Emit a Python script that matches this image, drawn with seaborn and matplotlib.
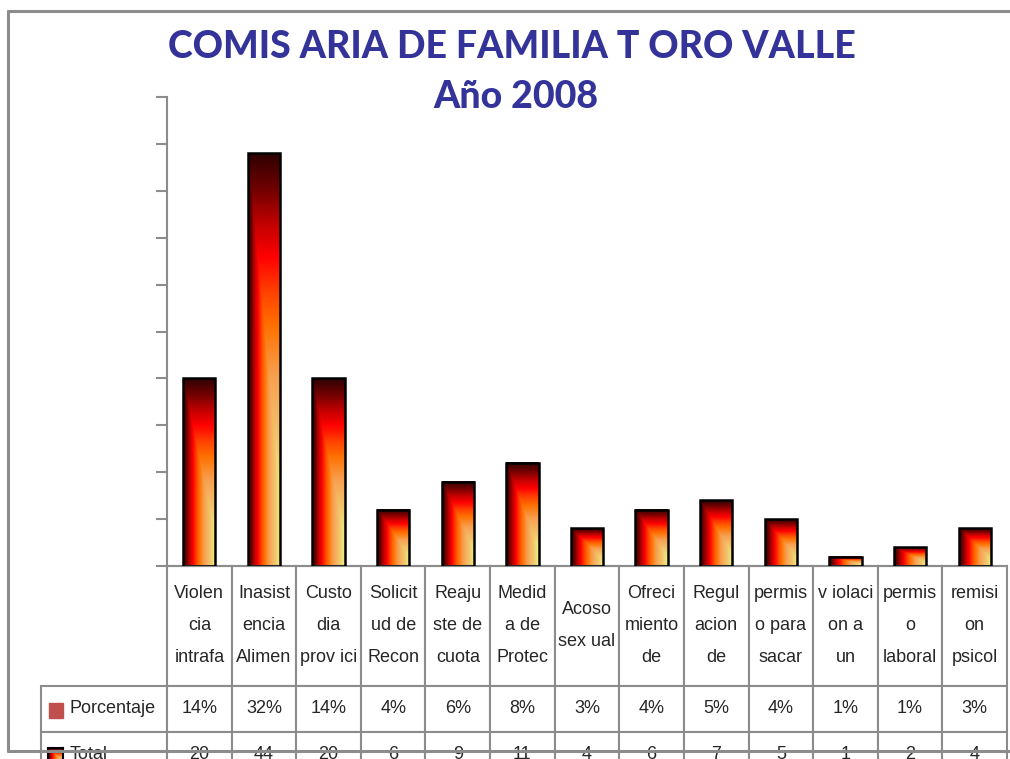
import numpy as np
import pandas as pd
import matplotlib
matplotlib.use("Agg")
import matplotlib.pyplot as plt
import seaborn as sns
from matplotlib.colors import LinearSegmentedColormap
from matplotlib.lines import Line2D
from matplotlib.patches import Rectangle

# datos del grafico
categorias = ["Violen\ncia\nintrafa", "Inasist\nencia\nAlimen", "Custo\ndia\nprov ici",
              "Solicit\nud de\nRecon", "Reaju\nste de\ncuota", "Medid\na de\nProtec",
              "Acoso\nsex ual", "Ofreci\nmiento\nde", "Regul\nacion\nde",
              "permis\no para\nsacar", "v iolaci\non a\nun", "permis\no\nlaboral",
              "remisi\non\npsicol"]
totales = [20, 44, 20, 6, 9, 11, 4, 6, 7, 5, 1, 2, 4]
porcentajes = ["14%", "32%", "14%", "4%", "6%", "8%", "3%", "4%", "5%", "4%", "1%", "1%", "3%"]
series = ["Porcentaje", "Total"]
titulo = "COMIS ARIA DE FAMILIA T ORO VALLE"
subtitulo = "Año 2008"

sns.set_style("white")
plt.rcParams['font.family'] = ['Liberation Sans', 'DejaVu Sans']

GRIS = "#8c8c8c"
AZUL = "#333399"

# degradado tipo excel: oscuro arriba/izquierda, amarillo abajo/derecha
fuego = LinearSegmentedColormap.from_list(
    "fuego", [(0.0, "#300000"), (0.1, "#700000"), (0.2, "#c00000"), (0.3, "#ff0000"),
              (0.4, "#ff4000"), (0.5, "#ff7000"), (0.65, "#f7a050"), (0.85, "#f2c870"),
              (1.0, "#eef080")], N=256)
ny, nx = 200, 40
u = np.linspace(0, 1, nx)[None, :]
v = np.linspace(0, 1, ny)[:, None]
grad = np.minimum(u, np.clip(v * 1.2, 0, 1))

df = pd.DataFrame({"categoria": categorias, "total": totales})

fig = plt.figure(figsize=(10.1, 7.59), dpi=100)
ax = fig.add_axes([167 / 1010, 1 - 566 / 759, 840 / 1010, 469 / 759])

sns.barplot(data=df, x="categoria", y="total", width=0.5, color="red", ax=ax)

for p in ax.patches:
    x0, w, h = p.get_x(), p.get_width(), p.get_height()
    ax.imshow(grad, cmap=fuego, extent=[x0, x0 + w, 0, h], aspect="auto",
              origin="upper", interpolation="bilinear", zorder=2)
    p.set_facecolor("none")
    p.set_edgecolor("black")
    p.set_linewidth(1.8)
    p.set_zorder(3)

ax.set_xlim(-0.5, len(categorias) - 0.5)
ax.set_ylim(0, 50)
ax.set_yticks(np.arange(0, 51, 5))
ax.set_yticklabels([])
ax.set_xlabel("")
ax.set_ylabel("")
ax.tick_params(axis="y", length=8, width=1.5, color=GRIS, direction="out", left=True)
ax.tick_params(axis="x", length=0, labelbottom=False)
for s in ["top", "right"]:
    ax.spines[s].set_visible(False)
for s in ["left", "bottom"]:
    ax.spines[s].set_color(GRIS)
    ax.spines[s].set_linewidth(1.5)

# tabla de datos bajo el grafico
cell_text = [[series[0]] + porcentajes, [series[1]] + [str(t) for t in totales]]
tab = ax.table(cellText=cell_text, colLabels=[""] + categorias,
               colWidths=[126] + [64.6] * len(categorias), cellLoc="center",
               bbox=[-126 / 840, -212 / 469, 966 / 840, 212 / 469])
tab.auto_set_font_size(False)
tab.set_fontsize(13)
for (r, c), cell in tab.get_celld().items():
    cell.set_edgecolor(GRIS)
    cell.set_linewidth(1.5)
    cell.get_text().set_linespacing(2.15)
    if r == 0:
        cell.set_height(cell.get_height() * 119 / 46)
    if c == 0:
        cell.get_text().set_horizontalalignment("left")
        cell.PAD = 0.23
tab[0, 0].visible_edges = "open"

# marcadores de la leyenda en la tabla
fig.add_artist(Rectangle((49 / 1010, 1 - 718 / 759), 14 / 1010, 15 / 759,
                         transform=fig.transFigure, color="#c0504d", zorder=5))
axm = fig.add_axes([48 / 1010, 1 - 764 / 759, 15 / 1010, 16 / 759])
axm.imshow(grad, cmap=fuego, aspect="auto", origin="upper")
axm.set_xticks([])
axm.set_yticks([])
for s in axm.spines.values():
    s.set_color("black")
    s.set_linewidth(1.5)

# titulo
fig.text(0.507, 1 - 47 / 759, titulo, ha="center", va="center", color=AZUL,
         fontsize=27, fontweight="black", family=["Lato", "DejaVu Sans"])
fig.text(0.511, 1 - 97 / 759, subtitulo, ha="center", va="center", color=AZUL,
         fontsize=27, fontweight="black", family=["Lato", "DejaVu Sans"])

# marco del grafico
marco = dict(transform=fig.transFigure, color=GRIS, lw=2.2, zorder=20)
fig.add_artist(Line2D([8 / 1010, 1], [1 - 11 / 759, 1 - 11 / 759], **marco))
fig.add_artist(Line2D([8 / 1010, 8 / 1010], [1 - 11 / 759, 1 - 751 / 759], **marco))
fig.add_artist(Line2D([8 / 1010, 1], [1 - 751 / 759, 1 - 751 / 759], **marco))

fig.savefig("out.png", dpi=100)
